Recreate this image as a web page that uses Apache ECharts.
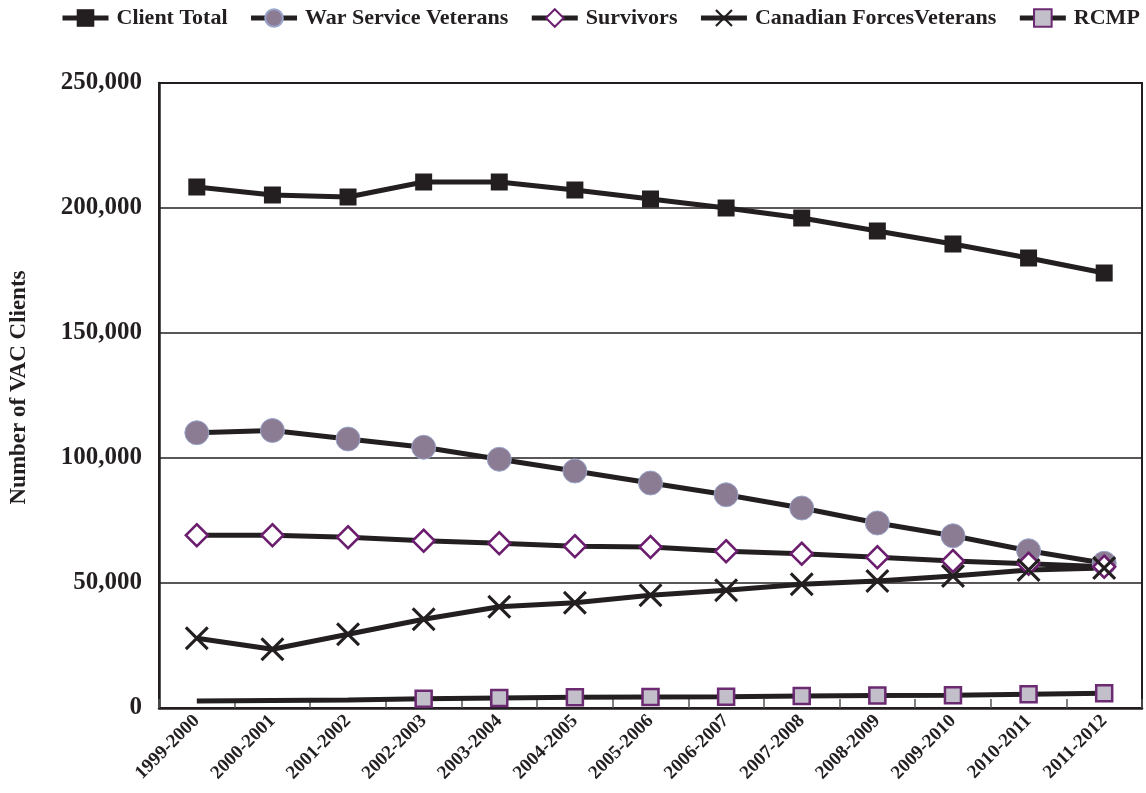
<!DOCTYPE html>
<html>
<head>
<meta charset="utf-8">
<script src="https://cdn.jsdelivr.net/npm/echarts@6/dist/echarts.min.js"></script>
<style>html,body{margin:0;padding:0;background:#fff}#c{width:1146px;height:793px}</style>
</head>
<body>
<div id="c"></div>
<script>
const categories = ['1999-2000','2000-2001','2001-2002','2002-2003','2003-2004','2004-2005','2005-2006','2006-2007','2007-2008','2008-2009','2009-2010','2010-2011','2011-2012'];
const clientTotal = [208400,205200,204400,210400,210400,207200,203600,200000,196000,190800,185600,180000,174000];
const warService = [110100,111000,107600,104300,99500,94800,90000,85300,80000,74000,68900,62900,57900];
const survivors = [69100,69100,68300,66900,65900,64700,64400,62700,61700,60300,58800,57700,56500];
const canadianForces = [27900,23500,29500,35500,40500,42100,45100,47100,49500,50800,52800,55200,56000];
const rcmp = [2800,3000,3200,3700,4000,4300,4400,4500,4800,5000,5100,5500,5900];
const rcmpFirstMarker = 3;
const yTicks = {min:0, max:250000, interval:50000};

const LINE = '#231f20';
const FONT = '"Liberation Serif", "DejaVu Serif", serif';
const chart = echarts.init(document.getElementById('c'));
const xPath = 'path://M0,0.9 L0.9,0 L10,9.1 L9.1,10 Z M9.1,0 L10,0.9 L0.9,10 L0,9.1 Z';

function lineSeries(name, data, symbol, size, itemStyle) {
  return {
    name, type:'line', data, symbol, symbolSize:size,
    showAllSymbols:true,
    lineStyle:{color:LINE, width:5},
    itemStyle, emphasis:{disabled:true}, animation:false
  };
}

const option = {
  animation:false,
  legend:{
    top:7, left:60, width:1086, padding:0, itemGap:21, itemWidth:46, itemHeight:22,
    lineStyle:{width:5, color:LINE},
    textStyle:{fontFamily:FONT, fontSize:22, fontWeight:'bold', color:LINE, padding:[0,0,0,3]},
    data:['Client Total','War Service Veterans','Survivors','Canadian ForcesVeterans','RCMP']
  },
  grid:{left:154, right:4, top:83, bottom:85, show:true, borderColor:LINE, borderWidth:2},
  xAxis:{
    type:'category', data:categories, boundaryGap:true,
    axisLine:{lineStyle:{color:LINE, width:2.5}},
    axisTick:{show:true, inside:true, length:9, lineStyle:{color:'#555', width:1.5}},
    axisLabel:{rotate:45, margin:10, fontFamily:FONT, fontSize:19, fontWeight:'bold', color:LINE, interval:0},
    splitLine:{show:false}
  },
  yAxis:{
    type:'value', min:yTicks.min, max:yTicks.max, interval:yTicks.interval,
    name:'Number of VAC Clients', nameLocation:'middle', nameGap:128, nameRotate:90,
    nameTextStyle:{fontFamily:FONT, fontSize:23, fontWeight:'bold', color:LINE, padding:[0,0,0,16]},
    axisLine:{show:true, lineStyle:{color:LINE, width:2.5}},
    axisTick:{show:false},
    axisLabel:{margin:17, fontFamily:FONT, fontSize:25, fontWeight:'bold', color:LINE,
      formatter:v=>v.toLocaleString('en-US')},
    splitLine:{lineStyle:{color:LINE, width:1.5}}
  },
  series:[
    lineSeries('Client Total', clientTotal, 'rect', 17, {color:LINE}),
    lineSeries('War Service Veterans', warService, 'circle', 24, {color:'#8b7b93', borderColor:'#9aa6cc', borderWidth:1}),
    lineSeries('Survivors', survivors, 'diamond', 22, {color:'#fff', borderColor:'#6b1d6e', borderWidth:2.5}),
    lineSeries('Canadian ForcesVeterans', canadianForces, xPath, 24, {color:LINE}),
    lineSeries('RCMP', rcmp.map((v,i)=> i < rcmpFirstMarker ? {value:v, symbolSize:0} : v), 'rect', 16, {color:'#c3bfca', borderColor:'#6b2a72', borderWidth:2.5})
  ]
};
chart.setOption(option);
</script>
</body>
</html>
